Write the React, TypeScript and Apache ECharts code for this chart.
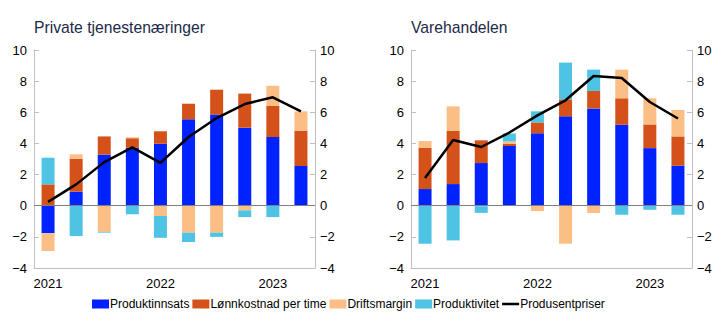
import React, { useEffect, useRef } from "react";
import * as echarts from "echarts";

const quarters = ["2021K1","2021K2","2021K3","2021K4","2022K1","2022K2","2022K3","2022K4","2023K1","2023K2"];
const yTicksMin = -4;
const yTicksMax = 10;

// Private tjenestenæringer
const ptProduktinnsats = [-1.76, 0.9, 3.28, 3.73, 3.98, 5.55, 5.85, 5.01, 4.41, 2.55];
const ptLonn = [1.37, 2.12, 1.17, 0.6, 0.8, 1.0, 1.6, 2.19, 2.0, 2.27];
const ptDrift = [-1.15, 0.28, -1.68, 0.06, -0.66, -1.73, -1.73, -0.3, 1.29, 1.24];
const ptProduktivitet = [1.71, -1.95, -0.05, -0.55, -1.4, -0.6, -0.27, -0.43, -0.73, 0];
const ptPriser = [0.25, 1.37, 2.8, 3.75, 2.75, 4.41, 5.63, 6.53, 6.96, 6.06];

// Varehandelen
const vhProduktinnsats = [1.07, 1.39, 2.74, 3.83, 4.65, 5.74, 6.25, 5.2, 3.7, 2.57];
const vhLonn = [2.66, 3.41, 1.46, 0.13, 0.7, 1.09, 1.12, 1.7, 1.52, 1.88];
const vhDrift = [0.42, 1.58, -0.03, 0.17, -0.34, -2.44, -0.47, 1.84, 1.68, 1.7];
const vhProduktivitet = [-2.44, -2.23, -0.43, 0.5, 0.71, 2.36, 1.37, -0.58, -0.26, -0.58];
const vhPriser = [1.78, 4.22, 3.77, 4.7, 5.8, 6.77, 8.33, 8.2, 6.66, 5.6];

const titles = ["Private tjenestenæringer", "Varehandelen"];
const names = ["Produktinnsats", "Lønnkostnad per time", "Driftsmargin", "Produktivitet", "Produsentpriser"];
const colors = ["#0022FF", "#D4521A", "#FBBF86", "#4EC3E3", "#000000"];

const FONT = "Liberation Sans, Arial, sans-serif";
const axisGray = "#BFBFBF";

export default function App() {
  const ref = useRef<HTMLDivElement>(null);
  useEffect(() => {
    if (!ref.current) return;
    const chart = echarts.init(ref.current, null, { renderer: "svg" });
    const grids = [
      { left: 34, right: 407, top: 50, bottom: 54 },
      { left: 411, right: 30, top: 50, bottom: 54 },
    ];
    const xAxis = grids.map((_, i) => ({
      type: "category",
      gridIndex: i,
      data: quarters,
      boundaryGap: true,
      axisLine: { onZero: false, lineStyle: { color: axisGray } },
      axisTick: { inside: true, length: 5, interval: 3, alignWithLabel: true, lineStyle: { color: axisGray } },
      axisLabel: {
        interval: 3,
        formatter: (v: string) => v.slice(0, 4),
        color: "#000",
        fontFamily: FONT,
        fontSize: 13,
        margin: 9,
      },
    }));
    const yAxis: any[] = [];
    grids.forEach((_, i) => {
      ["left", "right"].forEach((pos) => {
        yAxis.push({
          type: "value",
          gridIndex: i,
          position: pos,
          min: yTicksMin,
          max: yTicksMax,
          interval: 2,
          axisLine: { show: true, lineStyle: { color: axisGray } },
          axisTick: { show: true, inside: true, length: 5, lineStyle: { color: axisGray } },
          splitLine: { show: false },
          axisLabel: {
            color: "#000",
            fontFamily: FONT,
            fontSize: 13,
            margin: pos === "left" ? 7 : 5,
            formatter: (v: number) => (v < 0 ? "\u2212" + Math.abs(v) : String(v)),
          },
        });
      });
    });
    const datasets = [
      [ptProduktinnsats, ptLonn, ptDrift, ptProduktivitet, ptPriser],
      [vhProduktinnsats, vhLonn, vhDrift, vhProduktivitet, vhPriser],
    ];
    const series: any[] = [];
    datasets.forEach((ds, gi) => {
      for (let k = 0; k < 4; k++) {
        series.push({
          type: "bar",
          name: names[k],
          xAxisIndex: gi,
          yAxisIndex: gi * 2,
          stack: "s" + gi,
          barWidth: 13,
          data: ds[k],
          itemStyle: { color: colors[k] },
          markLine:
            k === 0
              ? {
                  silent: true,
                  symbol: "none",
                  label: { show: false },
                  lineStyle: { color: "#808080", width: 1, type: "solid" },
                  data: [{ yAxis: 0 }],
                  z: 5,
                }
              : undefined,
        });
      }
      series.push({
        type: "line",
        name: names[4],
        xAxisIndex: gi,
        yAxisIndex: gi * 2,
        data: ds[4],
        symbol: "none",
        lineStyle: { color: "#000", width: 2.5 },
        itemStyle: { color: "#000" },
        z: 10,
      });
    });
    const titleStyle = { fontFamily: FONT, fontSize: 15.7, fontWeight: "normal", color: "#1B2A4A" };
    chart.setOption({
      animation: false,
      grid: grids,
      title: [
        { text: titles[0], left: 34, top: 19, padding: 0, textStyle: titleStyle },
        { text: titles[1], left: 411, top: 19, padding: 0, textStyle: titleStyle },
      ],
      xAxis,
      yAxis,
      legend: {
        bottom: 12,
        left: 92,
        itemWidth: 17,
        itemHeight: 9,
        itemGap: 3,
        padding: 0,
        textStyle: { fontFamily: FONT, fontSize: 12, color: "#000", padding: [0, 0, 0, -4] },
        data: [
          { name: names[0], icon: "rect" },
          { name: names[1], icon: "rect" },
          { name: names[2], icon: "rect" },
          { name: names[3], icon: "rect" },
          { name: names[4], icon: "path://M0 0 H20 V3 H0 Z" },
        ],
      },
      series,
    });
    return () => chart.dispose();
  }, []);
  return <div ref={ref} style={{ width: 722, height: 322, position: "absolute", left: 0, top: 0 }} />;
}
